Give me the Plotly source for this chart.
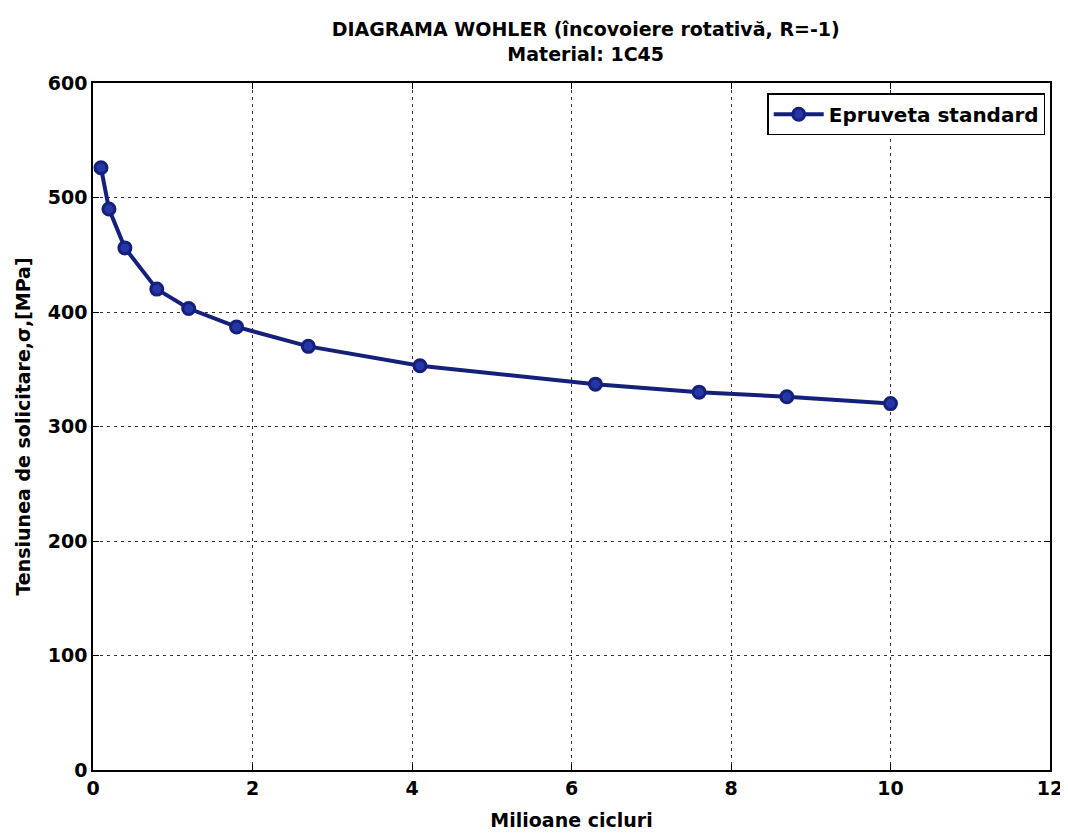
import plotly.graph_objects as go

cycles_millions = [0.1, 0.2, 0.4, 0.8, 1.2, 1.8, 2.7, 4.1, 6.3, 7.6, 8.7, 10.0]
stress_mpa = [526, 490, 456, 420, 403, 387, 370, 353, 337, 330, 326, 320]
series_name = "Epruveta standard"
x_ticks = [0, 2, 4, 6, 8, 10, 12]
y_ticks = [0, 100, 200, 300, 400, 500, 600]

FONT = "DejaVu Sans, Verdana, sans-serif"
NAVY = "#15207a"

fig = go.Figure()
fig.add_trace(go.Scatter(
    x=cycles_millions, y=stress_mpa, mode="lines+markers", name=series_name,
    line=dict(color=NAVY, width=4),
    marker=dict(symbol="circle", size=12, color="#2536a6", line=dict(color=NAVY, width=3)),
))

axis_common = dict(
    showline=True, linecolor="black", linewidth=1.5, mirror="ticks",
    ticks="inside", ticklen=6, tickcolor="black",
    showgrid=True, gridcolor="#333333", gridwidth=1, griddash="3px,4px",
    zeroline=False, automargin=False,
    tickfont=dict(family=FONT, size=19, color="black", weight="bold"),
)

fig.update_layout(
    width=1060, height=828,
    paper_bgcolor="white", plot_bgcolor="white",
    margin=dict(l=85, r=18, t=75, b=66, autoexpand=False),
    title=dict(
        text="DIAGRAMA WOHLER (încovoiere rotativă, R=-1)<br>Material: 1C45",
        x=0.545, xanchor="center", y=0.966, yanchor="top",
        font=dict(family=FONT, size=19, color="black", weight="bold"),
    ),
    xaxis=dict(range=[0, 12], tickvals=x_ticks, **axis_common,
               title=dict(text="Milioane cicluri", standoff=16,
                          font=dict(family=FONT, size=19, color="black", weight="bold"))),
    yaxis=dict(range=[0, 600], tickvals=y_ticks, **axis_common,
               title=dict(text="Tensiunea de solicitare,σ,[MPa]", standoff=12,
                          font=dict(family=FONT, size=19, color="black", weight="bold"))),
    legend=dict(
        x=0.995, y=0.985, xanchor="right", yanchor="top",
        bgcolor="white", bordercolor="black", borderwidth=1.5,
        itemwidth=50,
        font=dict(family=FONT, size=20, color="black", weight="bold"),
    ),
    showlegend=True,
)

fig.write_html("out.html")
